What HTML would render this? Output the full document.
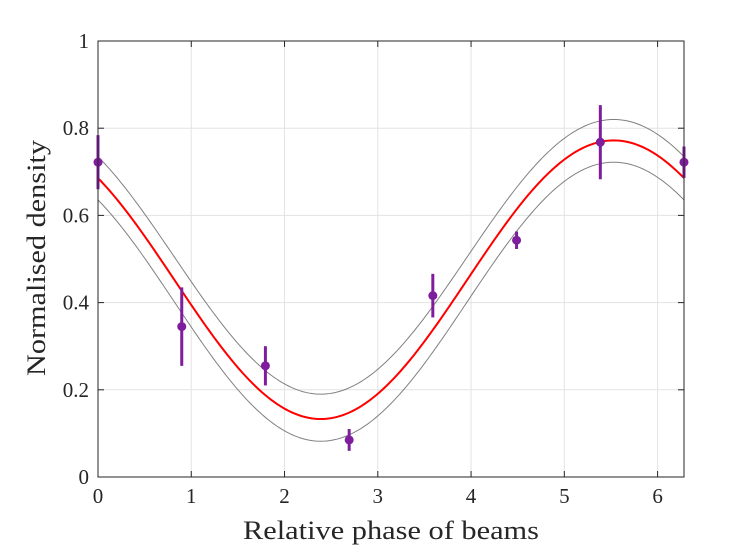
<!DOCTYPE html>
<html><head><meta charset="utf-8"><style>
body{margin:0;background:#fff}
svg{display:block;font-family:"Liberation Serif",serif}
</style></head><body>
<svg id="chart" width="756" height="550">
<rect width="756" height="550" fill="#fff"/>
<g id="grid"></g><g id="curves"></g><g id="points"></g><g id="axes"></g>
<text x="391" y="539" font-size="26" text-anchor="middle" textLength="296" lengthAdjust="spacingAndGlyphs" fill="#262626">Relative phase of beams</text>
<text transform="translate(45,258) rotate(-90)" font-size="26" text-anchor="middle" textLength="236" lengthAdjust="spacingAndGlyphs" fill="#262626">Normalised density</text>
</svg>
<script>
const xTicks=[0,1,2,3,4,5,6];
const yTicks=[0,0.2,0.4,0.6,0.8,1];
const yTickLabels=["0","0.2","0.4","0.6","0.8","1"];
const phases=[0,0.898,1.795,2.693,3.590,4.488,5.386,6.283];
const densities=[0.722,0.345,0.255,0.085,0.416,0.543,0.768,0.722];
const errors=[0.062,0.09,0.045,0.025,0.05,0.02,0.085,0.036];
// fit curve parameters: mean, amplitude, phase of maximum
const fitParams=[0.4525,0.3195,5.53];
const upperParams=[0.505,0.315,5.53];
const lowerParams=[0.402,0.32,5.53];
const L=98,R=684,T=41,B=477,XMAX=2*Math.PI;
const sx=v=>L+(R-L)*v/XMAX, sy=v=>B-(B-T)*v;
const NS="http://www.w3.org/2000/svg";
function mk(t,a,p){const e=document.createElementNS(NS,t);for(const k in a)e.setAttribute(k,a[k]);p.appendChild(e);return e;}
const grid=document.getElementById('grid'),axes=document.getElementById('axes'),curves=document.getElementById('curves'),pts=document.getElementById('points');
xTicks.forEach(v=>{
 const g=mk('line',{x1:sx(v),x2:sx(v),y1:T,y2:B,stroke:'#e3e3e3','stroke-width':1},grid);
 
 
 mk('line',{x1:sx(v),x2:sx(v),y1:B,y2:B-6,stroke:'#262626'},axes);
 mk('line',{x1:sx(v),x2:sx(v),y1:T,y2:T+6,stroke:'#262626'},axes);
 const t=mk('text',{x:sx(v),y:B+26,'font-size':21,'text-anchor':'middle',fill:'#262626'},axes);t.textContent=v;
 
 
});
yTicks.forEach((v,i)=>{
 const g=mk('line',{x1:L,x2:R,y1:sy(v),y2:sy(v),stroke:'#e3e3e3','stroke-width':1},grid);
 
 
 mk('line',{x1:L,x2:L+6,y1:sy(v),y2:sy(v),stroke:'#262626'},axes);
 mk('line',{x1:R,x2:R-6,y1:sy(v),y2:sy(v),stroke:'#262626'},axes);
 const t=mk('text',{x:L-9,y:sy(v)+7,'font-size':21,'text-anchor':'end',fill:'#262626'},axes);t.textContent=yTickLabels[i];
 
 
});
const box=mk('rect',{x:L,y:T,width:R-L,height:B-T,fill:'none',stroke:'#262626','stroke-width':1},axes);


function curve(p,color,w,name){
 let d='';for(let i=0;i<=200;i++){const x=XMAX*i/200;const y=p[0]+p[1]*Math.cos(x-p[2]);d+=(i?'L':'M')+sx(x).toFixed(2)+','+sy(y).toFixed(2);}
 const e=mk('path',{d:d,fill:'none',stroke:color,'stroke-width':w},curves);
 
 
}
curve(upperParams,'#808080',1,'upper-bound-curve');
curve(lowerParams,'#808080',1,'lower-bound-curve');
curve(fitParams,'#ff0000',2,'fit-curve');
phases.forEach((x,i)=>{
 const e=mk('line',{x1:sx(x),x2:sx(x),y1:sy(densities[i]-errors[i]),y2:sy(densities[i]+errors[i]),stroke:'#7e1e9c','stroke-width':3},pts);
 
 
 const c=mk('circle',{cx:sx(x),cy:sy(densities[i]),r:4.5,fill:'#7e1e9c'},pts);
 
 
});
</script>
</body></html>
